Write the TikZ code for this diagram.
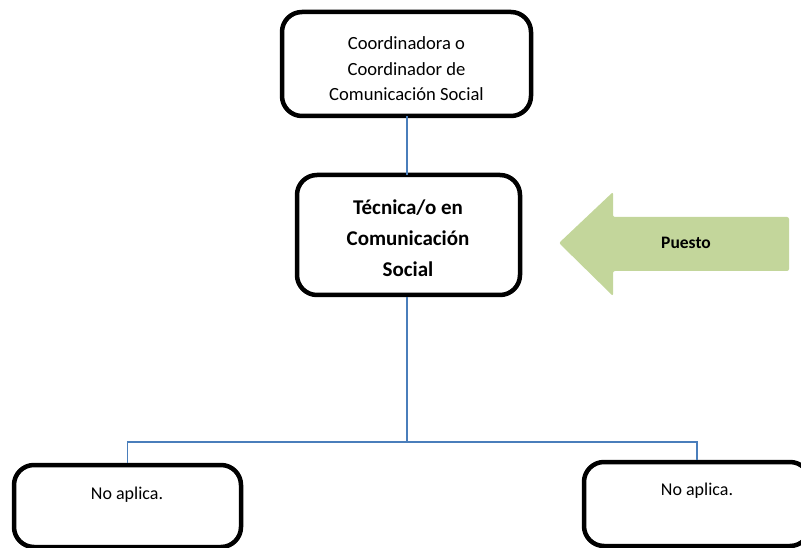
\documentclass[tikz,border=0pt]{standalone}
\usepackage{fontspec}
\setmainfont{Carlito}
\definecolor{linkblue}{HTML}{4A7EBB}
\definecolor{arrowgreen}{HTML}{C3D69B}
\begin{document}
\begin{tikzpicture}[x=1pt,y=-1pt,
  box/.style={draw=black, line width=4.5pt, rounded corners=20pt, fill=white, inner sep=0pt},
  link/.style={draw=linkblue, line width=1.6pt},
  regtext/.style={font=\fontsize{18.6}{25.5}\selectfont, align=center, inner sep=0pt},
  boldtext/.style={font=\bfseries\fontsize{21}{31}\selectfont, align=center, inner sep=0pt},
  smalltext/.style={font=\fontsize{18}{22}\selectfont, inner sep=0pt}]
\useasboundingbox (0,0) rectangle (801,548);
% arrow
\fill[arrowgreen, rounded corners=2pt] (559,243) -- (613,192) -- (613,217) -- (789,217) -- (789,271) -- (613,271) -- (613,296) -- cycle;
\node[font=\bfseries\fontsize{17.5}{20}\selectfont, inner sep=0pt] (puesto) at (686,243) {Puesto};
% boxes
\node[box, minimum width=249pt, minimum height=104pt] (top) at (406.5,64) {};
\node[box, minimum width=223pt, minimum height=120pt] (mid) at (408.5,235) {};
\node[box, minimum width=227pt, minimum height=82pt] (left) at (127.5,506) {};
\node[box, minimum width=226pt, minimum height=84pt] (right) at (697,504) {};
% texts
\node[regtext] (toptext) at (406.5,69) {Coordinadora o\\Coordinador de\\Comunicación Social};
\node[boldtext] (midtext) at (408,238) {Técnica/o en\\Comunicación\\Social};
\node[smalltext] (lefttext) at (127,495) {No aplica.};
\node[smalltext] (righttext) at (697,491) {No aplica.};
% connectors
\coordinate (split) at (407,442);
\draw[link] (407,116) -- (407,175);
\draw[link] (mid.south -| split) -- (split);
\draw[link] (split) -| (left.north);
\draw[link] (split) -| (right.north);
\end{tikzpicture}
\end{document}
